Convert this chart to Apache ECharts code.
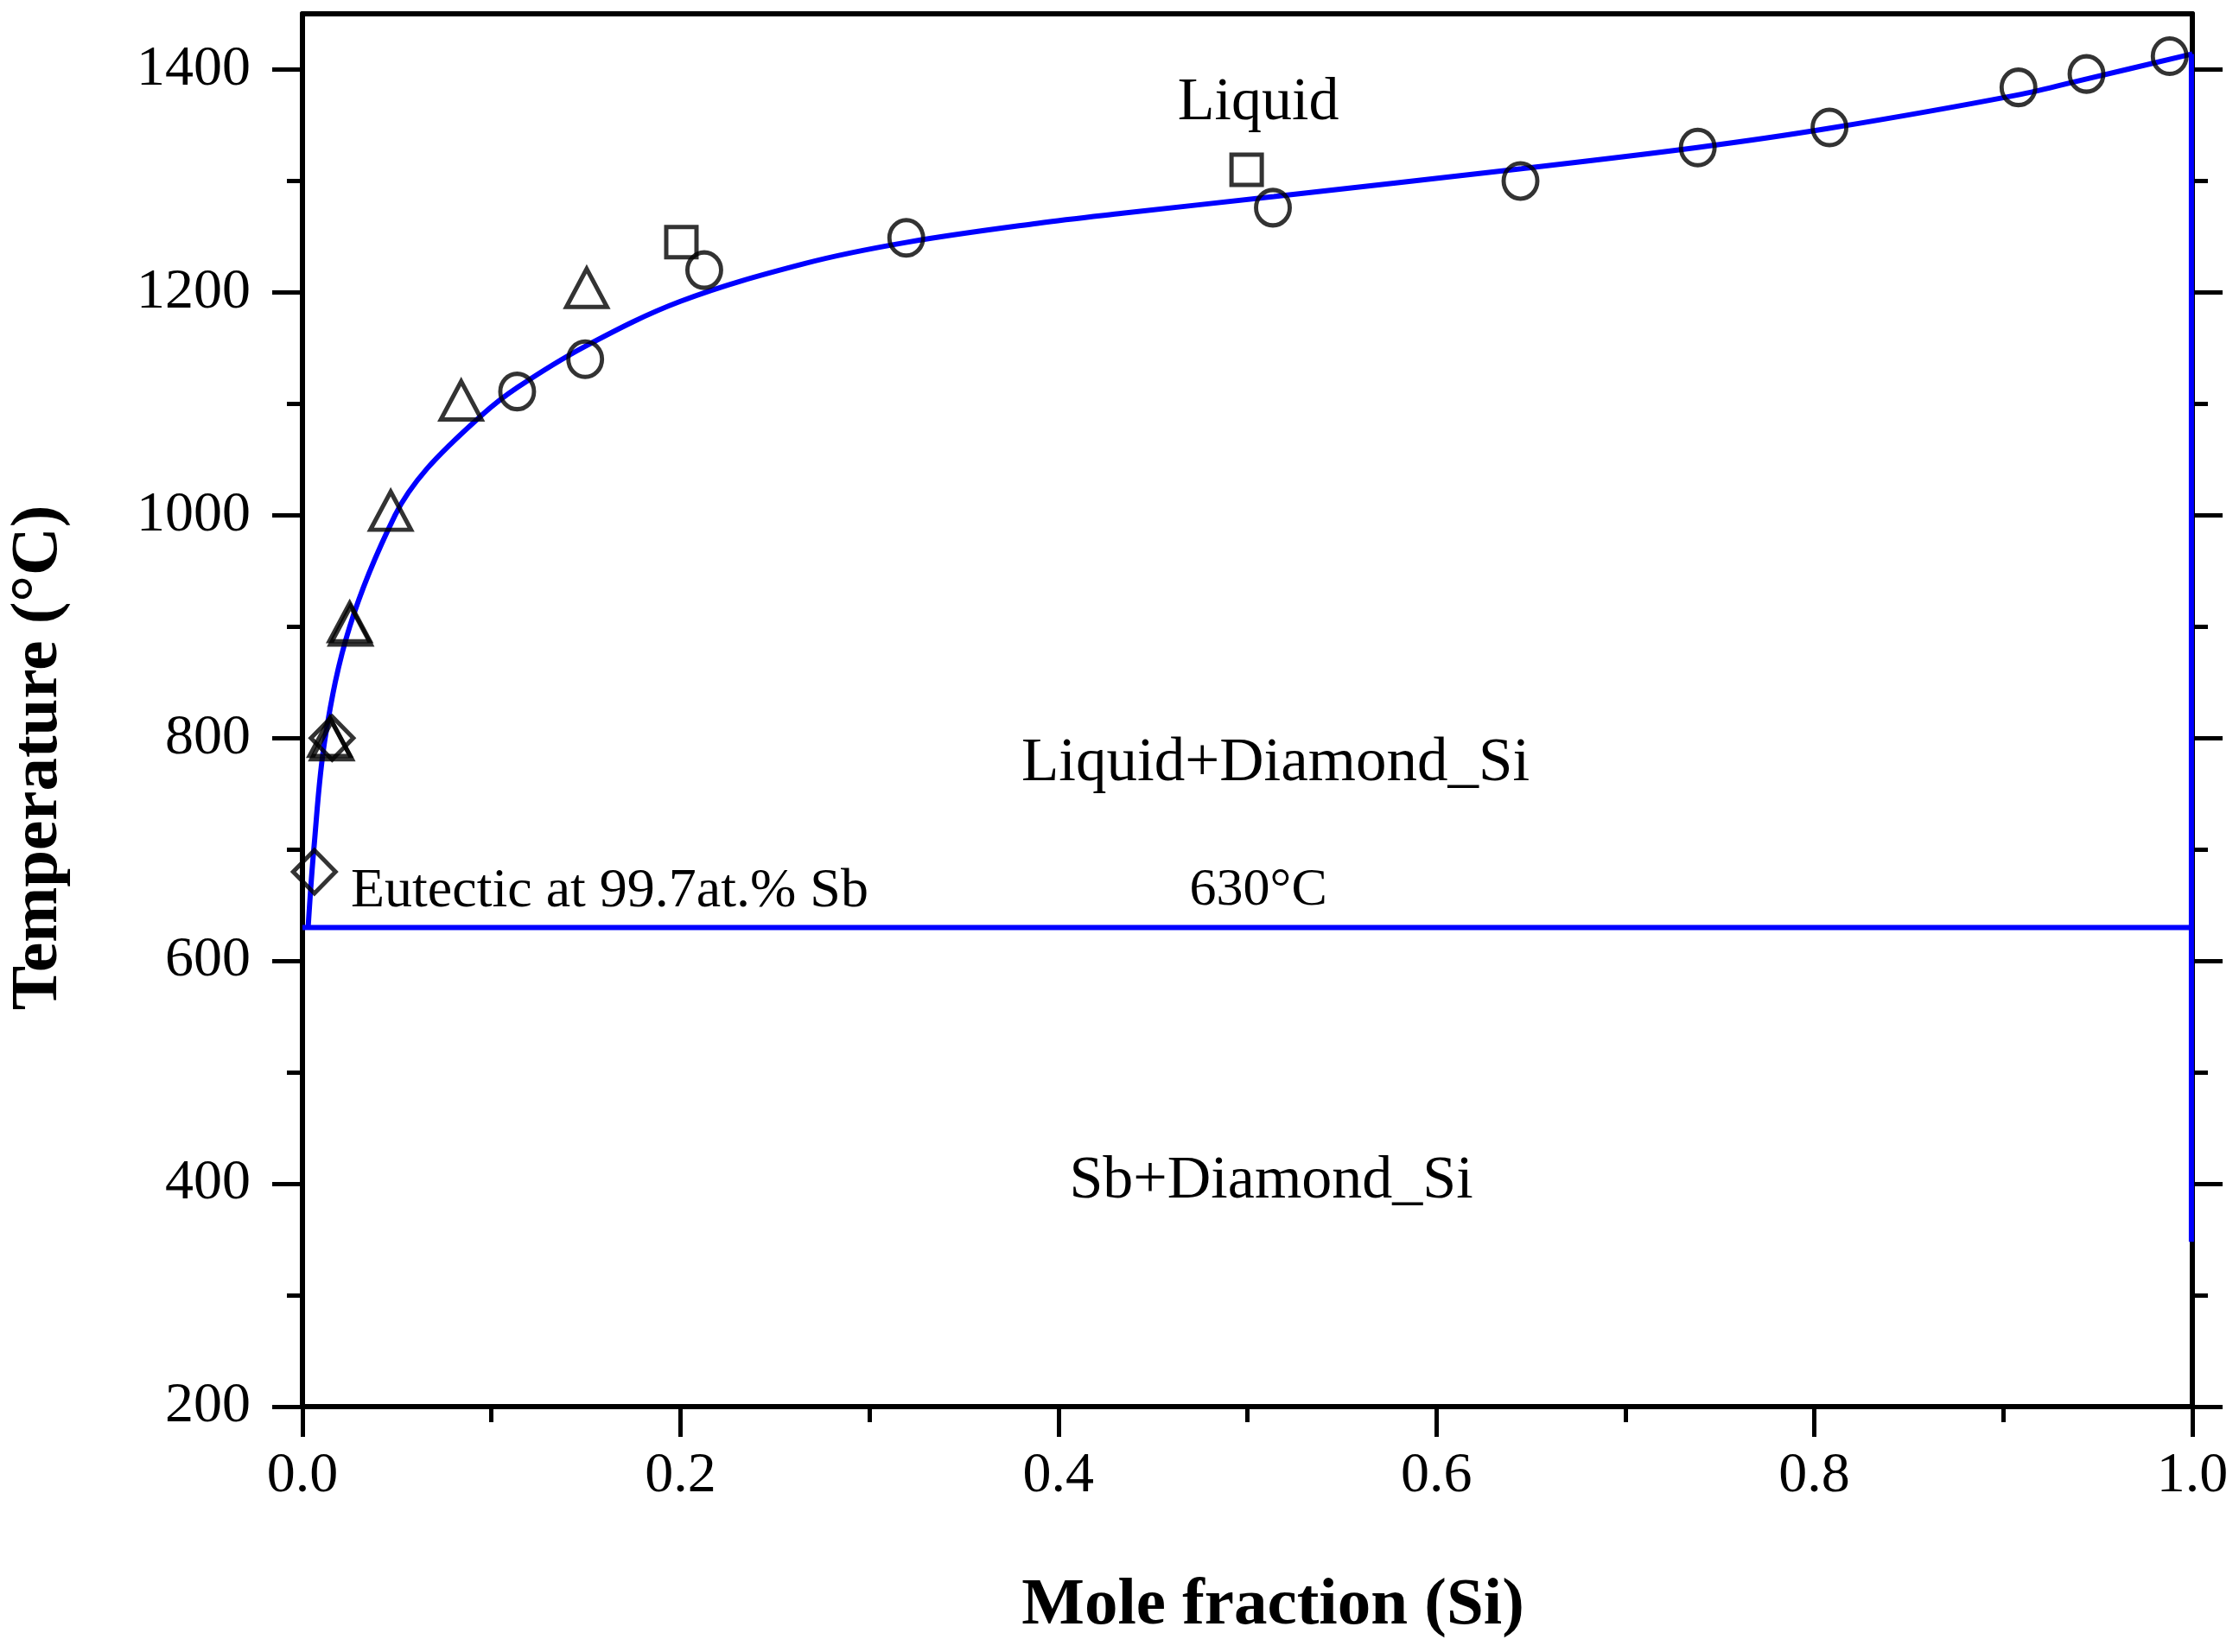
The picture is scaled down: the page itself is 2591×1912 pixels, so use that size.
<!DOCTYPE html>
<html>
<head>
<meta charset="utf-8">
<script src="https://cdn.jsdelivr.net/npm/echarts@6/dist/echarts.min.js"></script>
<style>
    html, body { margin: 0; padding: 0; background: #fff; }
    #chart-panel { width: 2591px; height: 1912px; }
</style>
</head>
<body>
<div id="chart-panel"></div>
<script>
// liquidus of Sb-Si: [x(Si), T(°C)]
var liquidus = [
    [0.003, 630], [0.006, 700], [0.012, 800], [0.025, 900], [0.049, 1000],
    [0.066, 1042], [0.095, 1090], [0.114, 1115], [0.150, 1152], [0.200, 1192],
    [0.266, 1226], [0.320, 1245], [0.389, 1262], [0.434, 1271], [0.514, 1286],
    [0.645, 1311], [0.738, 1330], [0.807, 1347], [0.907, 1377], [0.945, 1392],
    [1.000, 1414]
]
var eutectic = [[0, 630], [1, 630]]
var siSide = [[0.9995, 1414], [0.9995, 348]]

// experimental points
var circles = [
    [0.1136, 1111], [0.1496, 1140], [0.2126, 1220], [0.3195, 1249],
    [0.5135, 1276], [0.6445, 1300], [0.7383, 1330], [0.808, 1348],
    [0.908, 1384], [0.944, 1396], [0.988, 1412]
]
var squares = [[0.2005, 1245], [0.4996, 1310]]
var triangles = [
    [0.0145, 801], [0.0155, 798], [0.0250, 904], [0.0255, 901],
    [0.0467, 1004], [0.084, 1103], [0.1504, 1204]
]
var diamonds = [[0.0157, 800], [0.0063, 680]]

var tempMajor = [200, 400, 600, 800, 1000, 1200, 1400]
var tempMinor = [300, 500, 700, 900, 1100, 1300]

// region labels: [x, T, text, fontSize, align]
var regionLabels = [
    [0.5058, 1370, 'Liquid', 70, 'center'],
    [0.5149, 777, 'Liquid+Diamond_Si', 71, 'center'],
    [0.5058, 663, '630°C', 62, 'center'],
    [0.0256, 662, 'Eutectic at 99.7at.% Sb', 64, 'left'],
    [0.5126, 402, 'Sb+Diamond_Si', 70, 'center']
]

var serif = '"Liberation Serif", "Times New Roman", serif'
var black = '#000'
var blue = '#0000ff'

function yAxisDef(position, ticks, len, showLine, showLabel) {
    return {
        type: 'value',
        position: position,
        min: 200,
        max: 1450,
        axisLine: { show: showLine, onZero: false, lineStyle: { color: black, width: 6 } },
        axisTick: { show: true, customValues: ticks, length: len, lineStyle: { color: black, width: 5 } },
        axisLabel: {
            show: showLabel,
            customValues: ticks,
            margin: 60,
            fontFamily: serif,
            fontSize: 66,
            color: black,
            formatter: function (v) { return String(v) }
        },
        splitLine: { show: false }
    }
}

function markerSeries(data, symbol, size) {
    return {
        type: 'scatter',
        data: data,
        symbol: symbol,
        symbolSize: size,
        itemStyle: { color: 'rgba(0,0,0,0)', borderColor: black, borderWidth: 5 },
        clip: false,
        z: 4
    }
}

function lineSeries(data, smooth) {
    return {
        type: 'line',
        data: data,
        smooth: smooth,
        showSymbol: false,
        lineStyle: { color: blue, width: 6 },
        clip: false,
        z: 3
    }
}

var chartOption = {
    backgroundColor: '#fff',
    animation: false,
    grid: { left: 350, right: 54, top: 16, bottom: 284 },
    xAxis: [{
        type: 'value',
        position: 'bottom',
        min: 0,
        max: 1,
        interval: 0.2,
        axisLine: { onZero: false, lineStyle: { color: black, width: 6 } },
        axisTick: { length: 35, lineStyle: { color: black, width: 5 } },
        minorTick: { show: true, splitNumber: 2, length: 18, lineStyle: { color: black, width: 5 } },
        axisLabel: {
            margin: 48,
            showMinLabel: true,
            showMaxLabel: true,
            fontFamily: serif,
            fontSize: 66,
            color: black,
            formatter: function (v) { return v.toFixed(1) }
        },
        splitLine: { show: false }
    }, {
        type: 'value',
        position: 'top',
        min: 0,
        max: 1,
        axisLine: { onZero: false, lineStyle: { color: black, width: 6 } },
        axisTick: { show: false },
        axisLabel: { show: false },
        splitLine: { show: false }
    }],
    yAxis: [
        yAxisDef('left', tempMajor, 35, true, true),
        yAxisDef('left', tempMinor, 18, false, false),
        yAxisDef('right', tempMajor, 35, true, false),
        yAxisDef('right', tempMinor, 18, false, false)
    ],
    series: [
        lineSeries(liquidus, 0.35),
        lineSeries(eutectic, false),
        lineSeries(siSide, false),
        markerSeries(circles, 'circle', [39, 41]),
        markerSeries(squares, 'rect', [35, 35]),
        markerSeries(triangles, 'triangle', [47, 44]),
        markerSeries(diamonds, 'diamond', [49, 50])
    ]
}

var myChart = echarts.init(document.getElementById('chart-panel'))
myChart.setOption(chartOption)

// text labels placed in data space, axis titles in pixels
var texts = regionLabels.map(function (l) {
    var pt = myChart.convertToPixel({ xAxisIndex: 0, yAxisIndex: 0 }, [l[0], l[1]])
    return {
        type: 'text',
        x: pt[0],
        y: pt[1],
        z: 10,
        style: {
            text: l[2],
            font: l[3] + 'px ' + serif,
            fill: black,
            align: l[4],
            verticalAlign: 'middle'
        }
    }
})
texts.push({
    type: 'text',
    x: 1473,
    y: 1859,
    style: { text: 'Mole fraction (Si)', font: 'bold 77px ' + serif, fill: black, align: 'center', verticalAlign: 'middle' }
})
texts.push({
    type: 'text',
    x: 45,
    y: 877,
    rotation: Math.PI / 2,
    style: { text: 'Temperature (°C)', font: 'bold 77px ' + serif, fill: black, align: 'center', verticalAlign: 'middle' }
})
myChart.setOption({ graphic: texts })
</script>
</body>
</html>
